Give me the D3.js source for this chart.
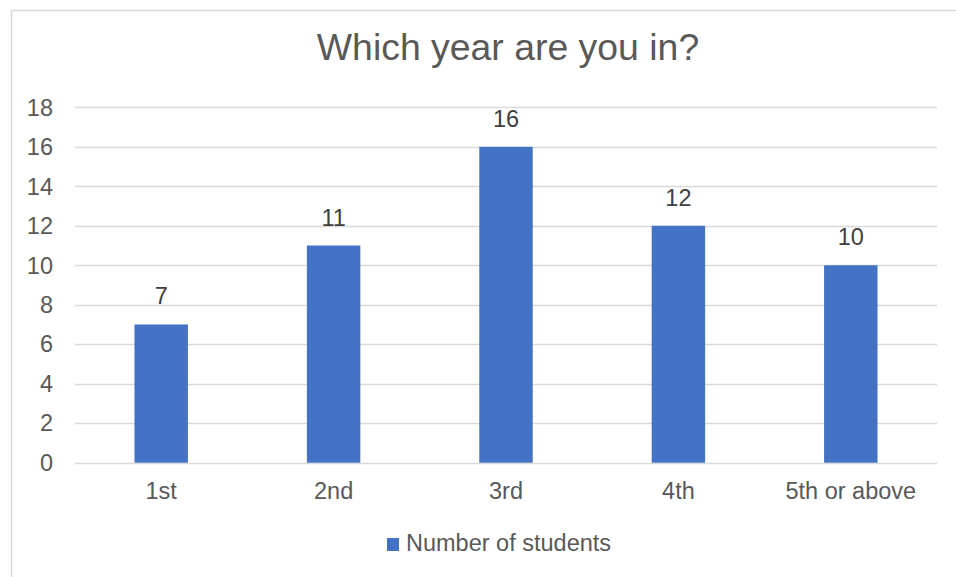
<!DOCTYPE html>
<html>
<head>
<meta charset="utf-8">
<script src="https://cdn.jsdelivr.net/npm/d3@7"></script>
<style>
  html, body { margin: 0; padding: 0; background: #fff; }
  svg { display: block; font-family: "Liberation Sans", Arial, Helvetica, sans-serif; }
</style>
</head>
<body>
<svg id="chart" width="956" height="577"></svg>
<script>
const title = "Which year are you in?";
const categories = ["1st", "2nd", "3rd", "4th", "5th or above"];
const values = [7, 11, 16, 12, 10];
const seriesName = "Number of students";
const yTicks = [0, 2, 4, 6, 8, 10, 12, 14, 16, 18];

const svg = d3.select("#chart");
const W = 956, H = 577;
const textColor = "#595959";
const gridColor = "#d9d9d9";
const barColor = "#4472C4";
const fs = "23.5px";

// chart border
svg.append("rect")
  .attr("x", 11.5).attr("y", 10.5)
  .attr("width", W + 10).attr("height", H + 10)
  .attr("fill", "#fff").attr("stroke", gridColor).attr("stroke-width", 1.5);

const plot = { left: 75, right: 937, top: 107.3, bottom: 462.7 };

const x = d3.scaleBand()
  .domain(categories)
  .range([plot.left, plot.right])
  .paddingInner(0.69).paddingOuter(0.345);

const y = d3.scaleLinear()
  .domain([0, 18])
  .range([plot.bottom, plot.top]);

// gridlines
svg.append("g")
  .selectAll("line")
  .data(yTicks)
  .join("line")
  .attr("x1", plot.left).attr("x2", plot.right)
  .attr("y1", d => Math.round(y(d)) + 0.5).attr("y2", d => Math.round(y(d)) + 0.5)
  .attr("stroke", gridColor).attr("stroke-width", 1.5);

// y axis labels
const yAxis = d3.axisLeft(y).tickValues(yTicks).tickSize(0).tickPadding(0);
const yG = svg.append("g").attr("transform", `translate(53,0)`).call(yAxis);
yG.select(".domain").remove();
yG.selectAll("text")
  .attr("fill", textColor)
  .style("font-size", fs)
  .attr("dy", "0.33em");

// bars
svg.append("g")
  .selectAll("rect")
  .data(values)
  .join("rect")
  .attr("x", (d, i) => x(categories[i]))
  .attr("width", x.bandwidth())
  .attr("y", d => y(d))
  .attr("height", d => y(0) - y(d))
  .attr("fill", barColor);

// data labels
svg.append("g")
  .selectAll("text")
  .data(values)
  .join("text")
  .attr("x", (d, i) => x(categories[i]) + x.bandwidth() / 2)
  .attr("y", d => y(d) - 20)
  .attr("text-anchor", "middle")
  .attr("fill", "#404040")
  .style("font-size", fs)
  .text(d => d);

// x axis labels
const xAxis = d3.axisBottom(x).tickSize(0).tickPadding(0);
const xG = svg.append("g").attr("transform", `translate(0,${plot.bottom})`).call(xAxis);
xG.select(".domain").remove();
xG.selectAll("text")
  .attr("fill", textColor)
  .style("font-size", fs)
  .attr("dy", null)
  .attr("y", 36);

// title
svg.append("text")
  .attr("x", 508).attr("y", 60)
  .attr("text-anchor", "middle")
  .attr("fill", textColor)
  .style("font-size", "37.4px")
  .text(title);

// legend
const lg = svg.append("g");
lg.append("rect")
  .attr("x", 387).attr("y", 538).attr("width", 12).attr("height", 13)
  .attr("fill", barColor);
lg.append("text")
  .attr("x", 406).attr("y", 551)
  .attr("fill", textColor)
  .style("font-size", fs)
  .text(seriesName);
</script>
</body>
</html>
